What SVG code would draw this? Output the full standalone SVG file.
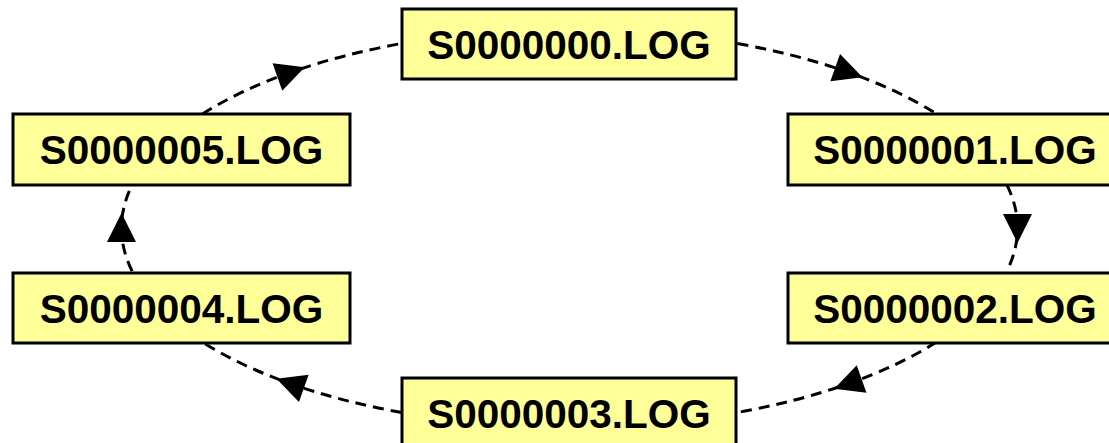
<svg xmlns="http://www.w3.org/2000/svg" width="1109" height="443" viewBox="0 0 1109 443">
<style>
.box{fill:#ffff99;stroke:#000;stroke-width:3}
.lbl{font-family:"Liberation Sans",Arial,sans-serif;font-weight:bold;font-size:40.5px;text-anchor:middle;fill:#000}
.con{fill:none;stroke:#000;stroke-width:3;stroke-dasharray:11 7;marker-mid:url(#arr)}
</style>
<defs>
<marker id="arr" markerUnits="userSpaceOnUse" markerWidth="32" markerHeight="32" refX="0" refY="0" viewBox="-16 -16 32 32" orient="auto" overflow="visible">
<path d="M15,0 L-14,-14.5 L-14,14.5 Z" fill="#000"/>
</marker>
</defs>
<rect width="1109" height="443" fill="#fff"/>
<g id="connectors">
<path class="con" d="M737.3,43.5 A448,199 0 0 1 848.4,72.3 A448,199 0 0 1 936.5,113.9"/>
<path class="con" d="M1006.9,184.9 A448,199 0 0 1 1017.5,228 A448,199 0 0 1 1006.9,271.1"/>
<path class="con" d="M936.5,342.1 A448,199 0 0 1 848.4,383.7 A448,199 0 0 1 737.3,412.5"/>
<path class="con" d="M401.7,412.5 A448,199 0 0 1 290.6,383.7 A448,199 0 0 1 202.5,342.1"/>
<path class="con" d="M132.1,271.1 A448,199 0 0 1 121.5,228 A448,199 0 0 1 132.1,184.9"/>
<path class="con" d="M202.5,113.9 A448,199 0 0 1 290.6,72.3 A448,199 0 0 1 401.7,43.5"/>
</g>
<g id="n0"><rect class="box" x="402" y="9" width="334" height="70"/><text class="lbl" x="569" y="59">S0000000.LOG</text></g>
<g id="n1"><rect class="box" x="788" y="114" width="334" height="71"/><text class="lbl" x="955" y="164">S0000001.LOG</text></g>
<g id="n2"><rect class="box" x="788" y="273" width="334" height="70"/><text class="lbl" x="955" y="323">S0000002.LOG</text></g>
<g id="n3"><rect class="box" x="402" y="378" width="334" height="70"/><text class="lbl" x="569" y="428">S0000003.LOG</text></g>
<g id="n4"><rect class="box" x="13" y="273" width="337" height="70"/><text class="lbl" x="181.5" y="323">S0000004.LOG</text></g>
<g id="n5"><rect class="box" x="13" y="114" width="337" height="71"/><text class="lbl" x="181.5" y="164">S0000005.LOG</text></g>
</svg>
